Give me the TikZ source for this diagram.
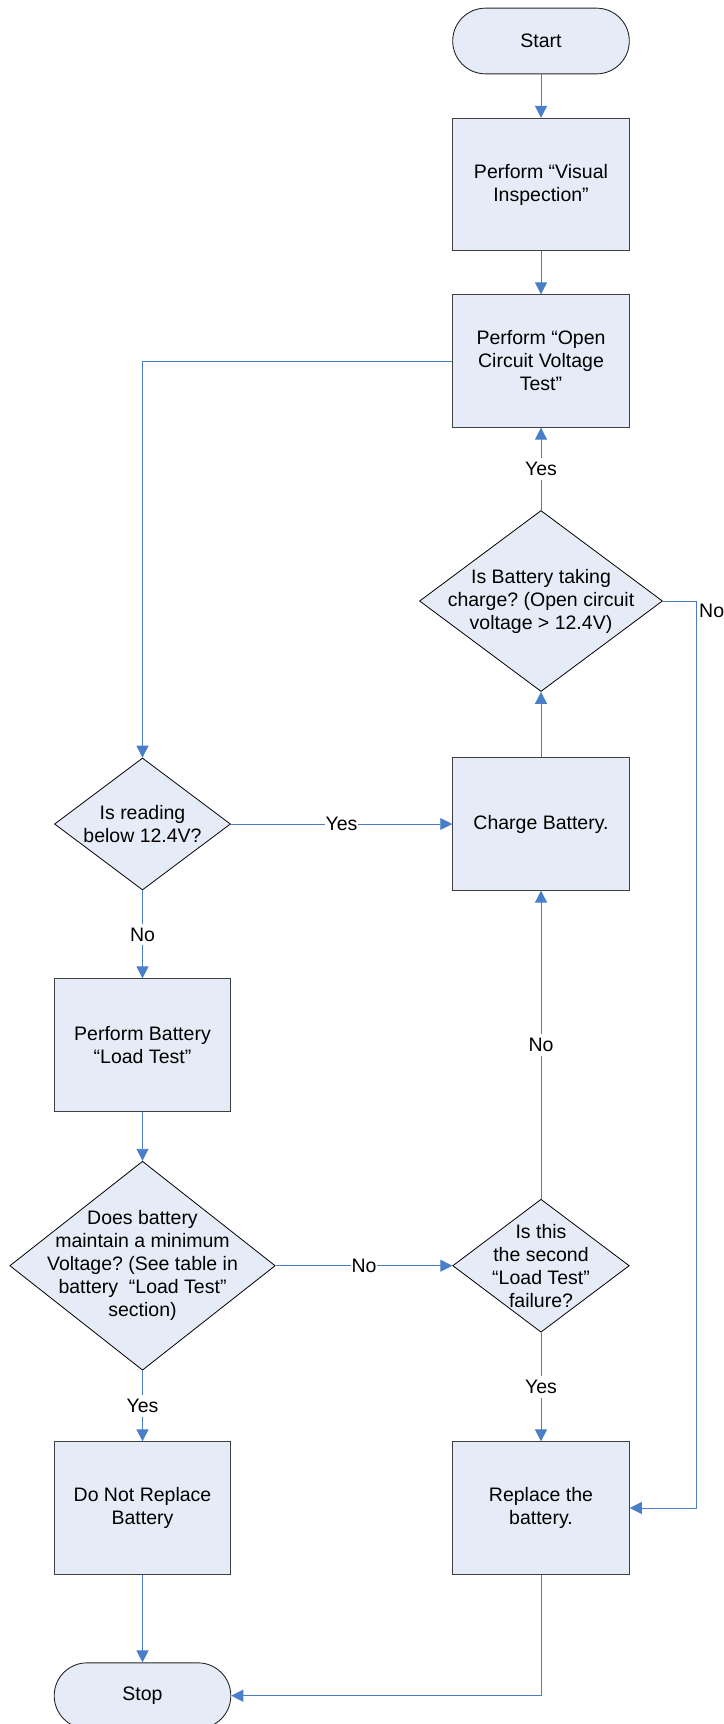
\documentclass[tikz,border=0pt]{standalone}
\usepackage{fontspec}
\setmainfont{Liberation Sans}
\usetikzlibrary{shapes.geometric,arrows.meta}
\definecolor{boxfill}{HTML}{E6ECF7}
\definecolor{linkblue}{HTML}{4A7EC8}
\definecolor{boxline}{HTML}{404040}
\frenchspacing
\begin{document}
\begin{tikzpicture}[x=1pt,y=-1pt,
  font=\fontsize{19.5}{23}\selectfont,
  proc/.style={draw=boxline, fill=boxfill, line width=0.9pt, minimum width=176.6pt, minimum height=132.4pt, inner sep=0pt, align=center},
  term/.style={draw=black!85, fill=boxfill, line width=0.9pt, rounded corners=32.8pt, minimum width=176.6pt, minimum height=65.7pt, inner sep=0pt},
  dia/.style={diamond, draw=black, fill=boxfill, line width=0.8pt, inner sep=0pt},
  txt/.style={align=center, inner sep=0pt},
  link/.style={draw=linkblue, line width=0.9pt, -{Triangle[width=12pt,length=12pt]}},
  lab/.style={fill=white, inner xsep=1pt, inner ysep=4pt}
]
\useasboundingbox (0,0) rectangle (723,1724);
\node[term] (start) at (541,41) {Start};
\node[proc] (vis) at (541,184.5) {Perform “Visual\\Inspection”};
\node[proc] (ocv) at (541,361) {Perform “Open\\Circuit Voltage\\Test”};
\node[dia, minimum width=243pt, minimum height=181pt] (chg) at (541,601) {};
\node[txt] (chgt) at (chg) {Is Battery taking\\charge? (Open circuit\\voltage > 12.4V)};
\node[proc] (charge) at (541,824) {Charge Battery.};
\node[dia, minimum width=176pt, minimum height=132pt] (read) at (142.5,824) {};
\node[txt] (readt) at (read) {Is reading\\below 12.4V?};
\node[proc] (load) at (142.5,1045) {Perform Battery\\“Load Test”};
\node[dia, minimum width=265.5pt, minimum height=209pt] (min) at (142.5,1265.7) {};
\node[txt] (mint) at (min) {Does battery\\maintain a minimum\\Voltage? (See table in\\battery\ \ “Load Test”\\section)};
\node[dia, minimum width=176.6pt, minimum height=133pt] (second) at (541,1265.7) {};
\node[txt] (secondt) at (second) {Is this\\the second\\“Load Test”\\failure?};
\node[proc] (keep) at (142.5,1508) {Do Not Replace\\Battery};
\node[proc] (repl) at (541,1508) {Replace the\\battery.};
\node[term] (stop) at (142.5,1695.7) {Stop};
\coordinate (nocorner) at (696,601);

\draw[link] (start) -- (vis);
\draw[link] (vis) -- (ocv);
\draw[link] (chg) -- node[lab]{Yes} (ocv);
\draw[link] (ocv.west) -| (read.north);
\draw[link] (read) -- node[lab]{Yes} (charge);
\draw[link] (charge) -- (chg);
\draw[link] (read) -- node[lab]{No} (load);
\draw[link] (load) -- (min);
\draw[link] (min) -- node[lab]{No} (second);
\draw[link] (second) -- node[lab]{No} (charge);
\draw[link] (min) -- node[lab]{Yes} (keep);
\draw[link] (second) -- node[lab]{Yes} (repl);
\draw[link] (keep) -- (stop);
\draw[link] (repl.south) |- (stop.east);
\draw[link] (chg.east) -- (nocorner) |- (repl.east);
\node[anchor=west, inner sep=1pt] (nolab) at (698,611) {No};
\end{tikzpicture}
\end{document}
